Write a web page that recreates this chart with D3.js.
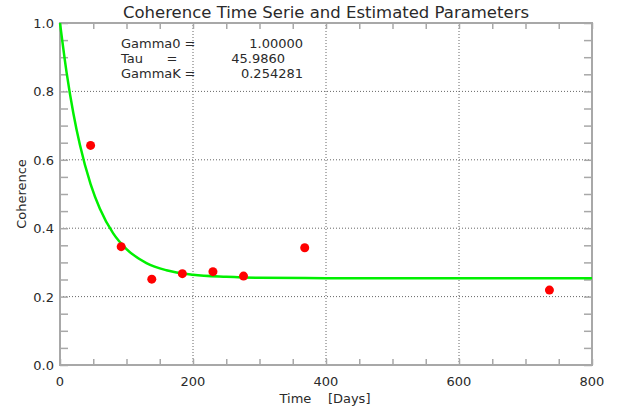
<!DOCTYPE html>
<html>
<head>
<meta charset="utf-8">
<script src="https://cdn.jsdelivr.net/npm/d3@7"></script>
<style>
  body { margin: 0; background: white; }
  text { font-family: "DejaVu Sans", sans-serif; fill: #2a2a2a; }
</style>
</head>
<body>
<div id="chart"></div>
<script>
// measured coherence (days since master acquisition)
const obsTime = [46, 92, 138, 184, 230, 276, 368, 736];
const obsCoherence = [0.642, 0.346, 0.251, 0.267, 0.273, 0.260, 0.343, 0.219];

// fitted model curve
const fitTime = [0, 10, 20, 30, 46, 60, 80, 100, 130, 160, 200, 250, 300, 400, 500, 600, 800];
const fitCoherence = [1.0, 0.854, 0.737, 0.643, 0.529, 0.457, 0.385, 0.339, 0.298, 0.277, 0.264, 0.258, 0.255, 0.254, 0.254, 0.254, 0.254];

const xTicks = [0, 200, 400, 600, 800];
const yTicks = [0.0, 0.2, 0.4, 0.6, 0.8, 1.0];

const paramNames = ["Gamma0", "Tau", "GammaK"];
const paramValues = ["1.00000", "45.9860", "0.254281"];

const width = 625, height = 410;
const margin = {left: 60, right: 33, top: 23, bottom: 45};

const svg = d3.select("#chart").append("svg")
  .attr("width", width)
  .attr("height", height)
  .style("display", "block");

const x = d3.scaleLinear().domain([0, 800]).range([margin.left, width - margin.right]);
const y = d3.scaleLinear().domain([0, 1]).range([height - margin.bottom, margin.top]);

// dotted grid
const grid = svg.append("g")
  .attr("stroke", "#666")
  .attr("stroke-width", 1)
  .attr("stroke-dasharray", "1,2");
grid.selectAll("line.gx").data(xTicks.slice(1, -1)).join("line")
  .attr("x1", d => x(d)).attr("x2", d => x(d))
  .attr("y1", y(0)).attr("y2", y(1));
grid.selectAll("line.gy").data(yTicks.slice(1, -1)).join("line")
  .attr("y1", d => y(d)).attr("y2", d => y(d))
  .attr("x1", x(0)).attr("x2", x(800));

// ticks on all four sides
const axisColor = "#a8a8a8";
const minorX = d3.range(0, 801, 50);
const minorY = d3.range(0, 1.001, 0.05);

const styleTicks = g => {
  g.select(".domain").remove();
  g.selectAll("line").attr("stroke", axisColor).attr("stroke-width", 1.5);
};

svg.append("g").attr("transform", `translate(0,${y(0)})`)
  .call(d3.axisTop(x).tickValues(minorX).tickSize(6).tickFormat(""))
  .call(styleTicks);
svg.append("g").attr("transform", `translate(0,${y(1)})`)
  .call(d3.axisBottom(x).tickValues(minorX).tickSize(6).tickFormat(""))
  .call(styleTicks);
svg.append("g").attr("transform", `translate(${x(0)},0)`)
  .call(d3.axisRight(y).tickValues(minorY).tickSize(8).tickFormat(""))
  .call(styleTicks);
svg.append("g").attr("transform", `translate(${x(800)},0)`)
  .call(d3.axisLeft(y).tickValues(minorY).tickSize(8).tickFormat(""))
  .call(styleTicks);

// frame
svg.append("rect")
  .attr("x", x(0)).attr("y", y(1))
  .attr("width", x(800) - x(0)).attr("height", y(0) - y(1))
  .attr("fill", "none")
  .attr("stroke", axisColor)
  .attr("stroke-width", 2);

// tick labels
svg.append("g").selectAll("text").data(xTicks).join("text")
  .attr("x", d => x(d)).attr("y", y(0) + 21)
  .attr("text-anchor", "middle")
  .style("font-size", "13px")
  .text(d => d);
svg.append("g").selectAll("text").data(yTicks).join("text")
  .attr("x", x(0) - 6).attr("y", d => y(d) + 5)
  .attr("text-anchor", "end")
  .style("font-size", "13px")
  .text(d => d.toFixed(1));

// fitted curve
const line = d3.line()
  .x((d, i) => x(fitTime[i]))
  .y(d => y(d))
  .curve(d3.curveMonotoneX);
svg.append("path")
  .datum(fitCoherence)
  .attr("d", line)
  .attr("fill", "none")
  .attr("stroke", "#00f000")
  .attr("stroke-width", 2.5);

// observed points
svg.append("g").selectAll("circle").data(obsCoherence).join("circle")
  .attr("cx", (d, i) => x(obsTime[i]))
  .attr("cy", d => y(d))
  .attr("r", 4.5)
  .attr("fill", "#ff0000");

// parameter box
const params = svg.append("g").style("font-size", "13px");
const rowY = [48, 63, 78];
const eqX = [190, 172, 190];
const valEnd = [303, 285, 303];
paramNames.forEach((name, i) => {
  params.append("text").attr("x", 121).attr("y", rowY[i]).text(name);
  params.append("text").attr("x", eqX[i]).attr("y", rowY[i]).attr("text-anchor", "middle").text("=");
  params.append("text").attr("x", valEnd[i]).attr("y", rowY[i])
    .attr("text-anchor", "end").text(paramValues[i]);
});

// title and axis titles
svg.append("text")
  .attr("x", (x(0) + x(800)) / 2).attr("y", 18)
  .attr("text-anchor", "middle")
  .style("font-size", "16.5px")
  .text("Coherence Time Serie and Estimated Parameters");

svg.append("text")
  .attr("x", 325).attr("y", 403)
  .attr("text-anchor", "middle")
  .style("font-size", "13px")
  .attr("xml:space", "preserve")
  .text("Time    [Days]");

svg.append("text")
  .attr("transform", `translate(26,${(y(0) + y(1)) / 2}) rotate(-90)`)
  .attr("text-anchor", "middle")
  .style("font-size", "13px")
  .text("Coherence");
</script>
</body>
</html>
